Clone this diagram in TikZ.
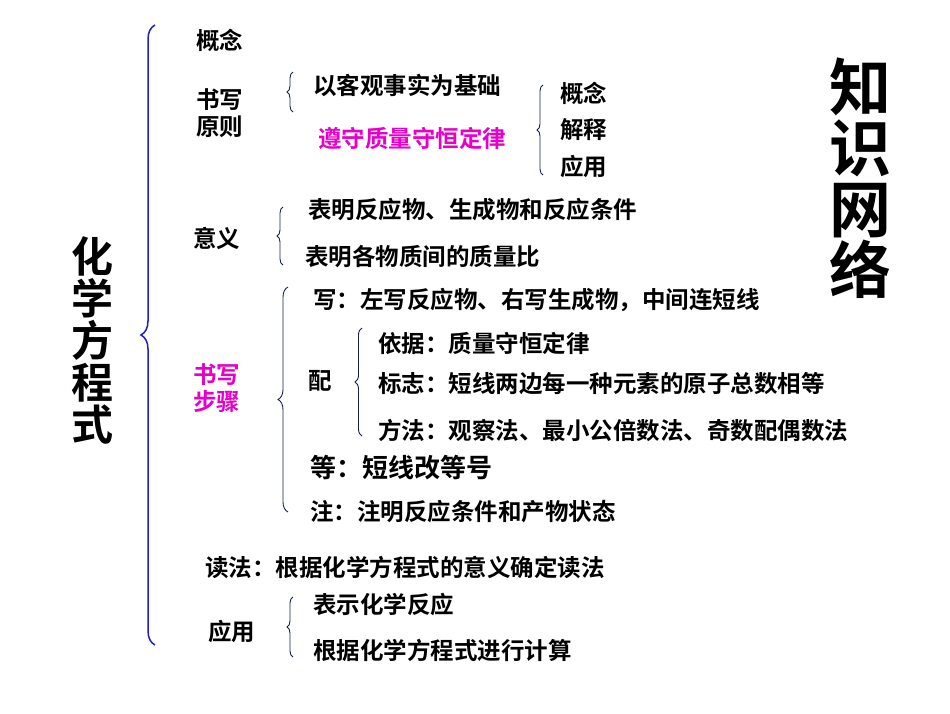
\documentclass[tikz,border=0pt]{standalone}
\usepackage{fontspec}
\setmainfont{Noto Sans CJK SC Bold}
\usetikzlibrary{decorations.pathreplacing}
\definecolor{mag}{RGB}{230,0,200}
\definecolor{bb}{RGB}{30,30,200}
\definecolor{nv}{RGB}{20,30,80}
\begin{document}
\begin{tikzpicture}[x=1pt,y=-1pt,
 t/.style={anchor=west,font=\fontsize{23.5}{27}\selectfont,inner sep=0pt},
 br/.style={decorate,decoration={brace,mirror,amplitude=#1},draw=nv,line width=0.9pt},
 br/.default=7]
\useasboundingbox (0,0) rectangle (950,713);
\draw[decorate,decoration={brace,mirror,amplitude=14},draw=bb,line width=1.5pt] (155,25) -- (155,645);
\node[inner sep=0pt,font=\fontsize{42}{42}\selectfont,align=center] (hx) at (92,340) {化\\学\\方\\程\\式};
\node[inner sep=0pt,font=\fontsize{62}{61}\selectfont,align=center] (zs) at (860,178) {知\\识\\网\\络};
\node[t] (gn) at (196,40) {概念};
\node[t,align=left] (sx) at (196,113) {书写\\原则};
\draw[br=6] (293,72) -- (293,112);
\node[t] (a1) at (313,85) {以客观事实为基础};
\node[t,text=mag] (a2) at (318,138) {遵守质量守恒定律};
\draw[br=6] (543,85) -- (543,175);
\node[t] (b1) at (560,93) {概念};
\node[t] (b2) at (560,130) {解释};
\node[t] (b3) at (560,167) {应用};
\node[t] (yy) at (193,238) {意义};
\draw[br=6] (283,207) -- (283,265);
\node[t] (c1) at (308,210) {表明反应物、生成物和反应条件};
\node[t] (c2) at (305,257) {表明各物质间的质量比};
\node[t,text=mag,align=left] (bz) at (193,388) {书写\\步骤};
\draw[br=10] (288,287) -- (288,512);
\node[t] (d1) at (313,300) {写：左写反应物、右写生成物，中间连短线};
\node[t] (pe) at (308,381) {配};
\draw[br=7] (362,328) -- (362,436);
\node[t] (e1) at (378,343) {依据：质量守恒定律};
\node[t] (e2) at (378,384) {标志：短线两边每一种元素的原子总数相等};
\node[t] (e3) at (378,430) {方法：观察法、最小公倍数法、奇数配偶数法};
\node[t,font=\fontsize{26}{28}\selectfont] (d3) at (310,468) {等：短线改等号};
\node[t] (d4) at (310,512) {注：注明反应条件和产物状态};
\node[t] (dr) at (205,567) {读法：根据化学方程式的意义确定读法};
\node[t] (yd) at (208,632) {应用};
\draw[br=6] (293,597) -- (293,657);
\node[t] (f1) at (313,605) {表示化学反应};
\node[t] (f2) at (313,650) {根据化学方程式进行计算};
\end{tikzpicture}
\end{document}
